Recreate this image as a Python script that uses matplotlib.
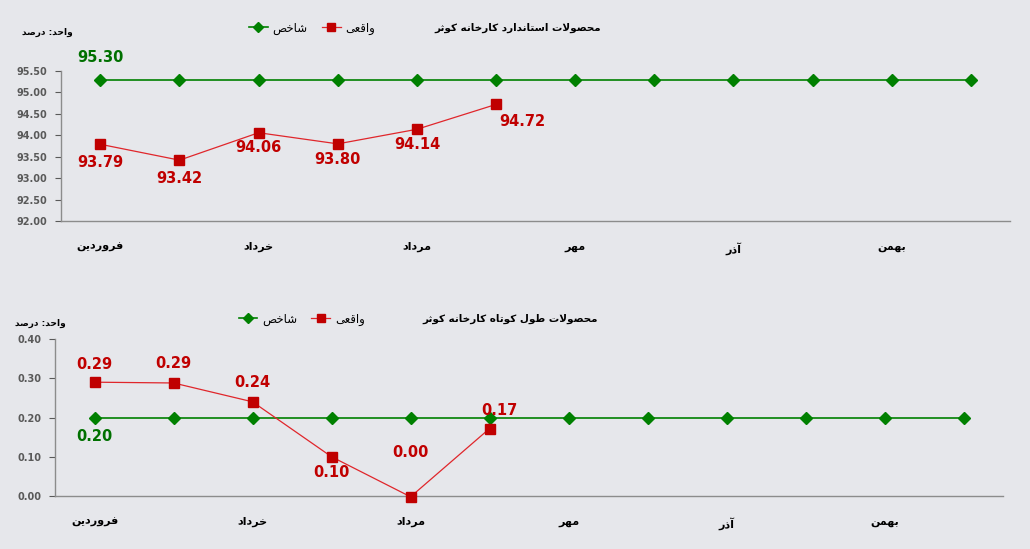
import matplotlib
matplotlib.use('Agg')
import matplotlib.pyplot as plt

# ---- data ----
months = ['فروردین', 'اردیبهشت', 'خرداد', 'تیر', 'مرداد', 'شهریور',
          'مهر', 'آبان', 'آذر', 'دی', 'بهمن', 'اسفند']
std_target = [95.30] * 12
std_actual = [93.79, 93.42, 94.06, 93.80, 94.14, 94.72]
short_target = [0.20] * 12
short_actual = [0.29, 0.288, 0.24, 0.10, -0.002, 0.172]

title_std = 'محصولات استاندارد کارخانه کوثر'
title_short = 'محصولات طول کوتاه کارخانه کوثر'
unit_text = 'واحد: درصد'
lbl_target = 'شاخص'
lbl_actual = 'واقعی'

BG = '#E6E7EB'
GREEN = '#008000'
DKGREEN = '#007000'
RED = '#C00000'
LINE_RED = '#E0262B'
GRAY = '#595959'

# ---- minimal Persian shaping (presentation forms), matplotlib has no RTL shaping ----
FORMS = {
    'ا': ('\uFE8D', '\uFE8E'), 'آ': ('\uFE81', '\uFE82'),
    'د': ('\uFEA9', '\uFEAA'), 'ذ': ('\uFEAB', '\uFEAC'),
    'ر': ('\uFEAD', '\uFEAE'), 'ز': ('\uFEAF', '\uFEB0'),
    'و': ('\uFEED', '\uFEEE'),
    'ب': ('\uFE8F', '\uFE90', '\uFE91', '\uFE92'),
    'ت': ('\uFE95', '\uFE96', '\uFE97', '\uFE98'),
    'ث': ('\uFE99', '\uFE9A', '\uFE9B', '\uFE9C'),
    'ح': ('\uFEA1', '\uFEA2', '\uFEA3', '\uFEA4'),
    'خ': ('\uFEA5', '\uFEA6', '\uFEA7', '\uFEA8'),
    'س': ('\uFEB1', '\uFEB2', '\uFEB3', '\uFEB4'),
    'ش': ('\uFEB5', '\uFEB6', '\uFEB7', '\uFEB8'),
    'ص': ('\uFEB9', '\uFEBA', '\uFEBB', '\uFEBC'),
    'ط': ('\uFEC1', '\uFEC2', '\uFEC3', '\uFEC4'),
    'ع': ('\uFEC9', '\uFECA', '\uFECB', '\uFECC'),
    'ف': ('\uFED1', '\uFED2', '\uFED3', '\uFED4'),
    'ق': ('\uFED5', '\uFED6', '\uFED7', '\uFED8'),
    'ل': ('\uFEDD', '\uFEDE', '\uFEDF', '\uFEE0'),
    'م': ('\uFEE1', '\uFEE2', '\uFEE3', '\uFEE4'),
    'ن': ('\uFEE5', '\uFEE6', '\uFEE7', '\uFEE8'),
    'ه': ('\uFEE9', '\uFEEA', '\uFEEB', '\uFEEC'),
    'ی': ('\uFBFC', '\uFBFD', '\uFBFE', '\uFBFF'),
    'ک': ('\uFB8E', '\uFB8F', '\uFB90', '\uFB91'),
}
LAM_ALEF = {'ا': ('\uFEFB', '\uFEFC'), 'آ': ('\uFEF5', '\uFEF6')}


def fa(text):
    out = []
    i = 0
    n = len(text)
    while i < n:
        c = text[i]
        if c not in FORMS:
            out.append(c)
            i += 1
            continue
        prev = i > 0 and text[i - 1] in FORMS and len(FORMS[text[i - 1]]) == 4
        if c == 'ل' and i + 1 < n and text[i + 1] in LAM_ALEF:
            out.append(LAM_ALEF[text[i + 1]][1 if prev else 0])
            i += 2
            continue
        f = FORMS[c]
        nxt = len(f) == 4 and i + 1 < n and text[i + 1] in FORMS
        if prev and nxt:
            out.append(f[3])
        elif prev:
            out.append(f[1])
        elif nxt:
            out.append(f[2])
        else:
            out.append(f[0])
        i += 1
    return ''.join(reversed(out))


plt.rcParams['font.family'] = ['DejaVu Sans']

fig = plt.figure(figsize=(10.3, 5.49), dpi=100, facecolor=BG)


def draw_panel(ax, target, actual, ylim, yticks, title, pos):
    ax.set_facecolor(BG)
    x_t = list(range(len(target)))
    x_a = list(range(len(actual)))
    ax.plot(x_t, target, color=GREEN, lw=1.2, marker='D', ms=6, mfc=GREEN, mec=GREEN,
            label=fa(lbl_target), zorder=3, clip_on=False)
    ax.plot(x_a, actual, color=LINE_RED, lw=0.9, marker='s', ms=7, mfc=RED, mec=RED,
            label=fa(lbl_actual), zorder=4, clip_on=False)
    ax.set_xlim(-0.5, 11.5)
    ax.set_ylim(*ylim)
    ax.set_yticks(yticks)
    ax.set_yticklabels([f'{v:.2f}' for v in yticks], fontsize=7, fontweight='bold', color=GRAY)
    ax.set_xticks(range(0, 12, 2))
    ax.set_xticklabels([fa(months[i]) for i in range(0, 12, 2)], fontsize=8,
                       fontweight='bold', color='black')
    ax.tick_params(axis='x', length=0, pad=15)
    ax.tick_params(axis='y', length=4, color=GRAY, direction='out', pad=6)
    for s in ['top', 'right']:
        ax.spines[s].set_visible(False)
    for s in ['left', 'bottom']:
        ax.spines[s].set_color('#8C8C8C')
        ax.spines[s].set_linewidth(1.0)
    # header texts
    fig.text(pos[0], pos[1], fa(title), fontsize=7.5, fontweight='bold', ha='center', va='center')
    fig.text(pos[2], pos[3] - 0.008, fa(unit_text), fontsize=6.5, fontweight='bold', ha='center', va='center')
    ax.legend(loc='center', bbox_to_anchor=(pos[4], pos[3]), bbox_transform=fig.transFigure,
              ncol=2, frameon=False, fontsize=8.5, handlelength=1.6, handletextpad=0.4,
              columnspacing=1.2, markerscale=0.85)


ax1 = fig.add_axes([0.059, 0.5974, 0.922, 0.2733])
draw_panel(ax1, std_target, std_actual, (92.0, 95.5),
           [92.0, 92.5, 93.0, 93.5, 94.0, 94.5, 95.0, 95.5],
           title_std, (0.503, 0.949, 0.046, 0.949, 0.303))
ax1.annotate(f'{std_target[0]:.2f}', (0, std_target[0]), xytext=(0, 16), textcoords='offset points',
             ha='center', va='center', fontsize=10.5, fontweight='bold', color=DKGREEN)
std_offsets = [(0, -13), (0, -13), (0, -11), (0, -11), (0, -11), (19, -12)]
for i, v in enumerate(std_actual):
    ax1.annotate(f'{v:.2f}', (i, v), xytext=std_offsets[i], textcoords='offset points',
                 ha='center', va='center', fontsize=10.5, fontweight='bold', color=RED)

ax2 = fig.add_axes([0.0534, 0.0965, 0.9206, 0.286])
draw_panel(ax2, short_target, short_actual, (0.0, 0.4),
           [0.0, 0.1, 0.2, 0.3, 0.4],
           title_short, (0.495, 0.419, 0.039, 0.419, 0.293))
ax2.annotate(f'{short_target[0]:.2f}', (0, short_target[0]), xytext=(0, -14), textcoords='offset points',
             ha='center', va='center', fontsize=10.5, fontweight='bold', color=DKGREEN)
short_offsets = [(0, 13), (0, 14), (0, 14), (0, -11), (0, 32), (7, 13)]
for i, v in enumerate(short_actual):
    ax2.annotate(f'{abs(v):.2f}', (i, v), xytext=short_offsets[i], textcoords='offset points',
                 ha='center', va='center', fontsize=10.5, fontweight='bold', color=RED,
                 annotation_clip=False)

fig.savefig('out.png', dpi=100, facecolor=BG)
